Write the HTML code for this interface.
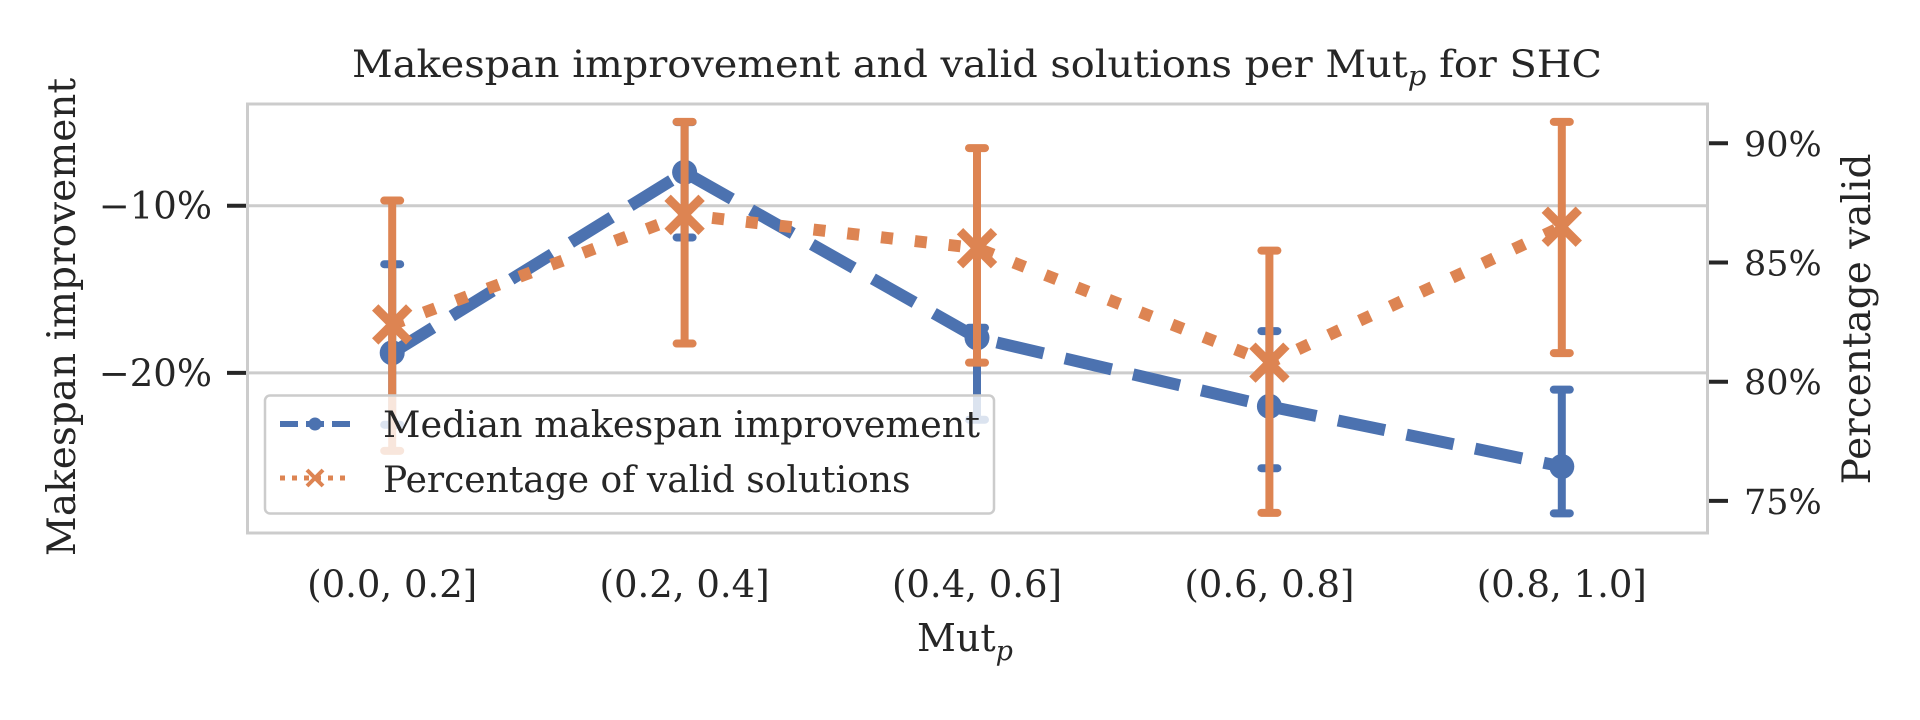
<!DOCTYPE html>
<html><head><meta charset="utf-8"><style>
html,body{margin:0;padding:0;background:#fff;}
svg{display:block;font-family:"DejaVu Serif","Liberation Serif",serif;}
</style></head><body>
<svg id="chart" width="1920" height="720" viewBox="0 0 1920 720" xmlns="http://www.w3.org/2000/svg">
<rect width="1920" height="720" fill="#fff"/>
<text x="977" y="77" font-size="37" fill="#262626" text-anchor="middle" textLength="1250" lengthAdjust="spacingAndGlyphs">Makespan improvement and valid solutions per Mut<tspan font-style="italic" font-size="27" dy="8">p</tspan><tspan dy="-8"> for SHC</tspan></text>
<g id="grid"></g>
<g id="series"></g>
<rect x="247.5" y="104" width="1460" height="429" fill="none" stroke="#cccccc" stroke-width="3"/>
<g id="axes"></g>
<text transform="translate(75,317) rotate(-90)" font-size="39" fill="#262626" text-anchor="middle">Makespan improvement</text>
<text transform="translate(1870,319) rotate(-90)" font-size="39" fill="#262626" text-anchor="middle">Percentage valid</text>
<text x="965" y="651" font-size="38" fill="#262626" text-anchor="middle">Mut<tspan font-style="italic" font-size="27" dy="9">p</tspan></text>
<g>
<rect x="265" y="395.5" width="729" height="118" rx="5" fill="#fff" fill-opacity="0.8" stroke="#cccccc" stroke-width="2.5"/>
<g>
<line x1="280" y1="424" x2="352" y2="424" stroke="#4c72b0" stroke-width="6" stroke-dasharray="18,8"/>
<circle cx="315" cy="424" r="6.5" fill="#4c72b0"/>
<text x="383" y="437" font-size="36" fill="#262626" textLength="597" lengthAdjust="spacingAndGlyphs">Median makespan improvement</text>
</g>
<g>
<line x1="280" y1="478" x2="352" y2="478" stroke="#dd8452" stroke-width="5" stroke-dasharray="5,7"/>
<path d="M307,470 L323,486 M323,470 L307,486" stroke="#dd8452" stroke-width="4"/>
<text x="383" y="492" font-size="36" fill="#262626">Percentage of valid solutions</text>
</g>
</g>
</svg>
<script>
const categories = ["(0.0, 0.2]","(0.2, 0.4]","(0.4, 0.6]","(0.6, 0.8]","(0.8, 1.0]"];
const medianValues = [-18.8, -8.0, -17.9, -22.0, -25.6];
const medianErrLow = [-23.1, -11.9, -22.8, -25.7, -28.4];
const medianErrHigh = [-13.5, -5.0, -17.3, -17.5, -21.0];
const validValues = [82.4, 87.0, 85.6, 80.8, 86.5];
const validErrLow = [77.1, 81.6, 80.8, 74.5, 81.2];
const validErrHigh = [87.6, 90.9, 89.8, 85.5, 90.9];
const leftTicks = [-10, -20];
const leftTickLabels = ["\u221210%", "\u221220%"];
const rightTicks = [90, 85, 80, 75];
const rightTickLabels = ["90%", "85%", "80%", "75%"];

const NS = "http://www.w3.org/2000/svg";
const X0 = 246, X1 = 1708, YT = 104, YB = 533;
const xScale = i => X0 + (i + 0.5) * (X1 - X0) / categories.length;
const yLeft = v => 205.7 - (v + 10) * 16.72;
const yRight = v => 143.3 + (90 - v) * 23.84;
function mk(tag, attrs, parent) {
  const e = document.createElementNS(NS, tag);
  for (const k in attrs) e.setAttribute(k, attrs[k]);
  parent.appendChild(e);
  return e;
}
const grid = document.getElementById('grid');
const axes = document.getElementById('axes');
const series = document.getElementById('series');

leftTicks.forEach((v, i) => {
  const y = yLeft(v);
  const g = mk('line', {x1: X0, x2: X1, y1: y, y2: y, stroke: '#cccccc', 'stroke-width': 3}, grid);
  
  
  const t = mk('line', {x1: 227, x2: 246, y1: y, y2: y, stroke: '#262626', 'stroke-width': 4}, axes);
  
  
  const l = mk('text', {x: 212, y: y + 13, 'font-size': 37, fill: '#262626', 'text-anchor': 'end'}, axes);
  l.textContent = leftTickLabels[i];
  
  
});
rightTicks.forEach((v, i) => {
  const y = yRight(v);
  const t = mk('line', {x1: 1709, x2: 1728, y1: y, y2: y, stroke: '#262626', 'stroke-width': 4}, axes);
  
  
  const l = mk('text', {x: 1744, y: y + 13, 'font-size': 35, fill: '#262626'}, axes);
  l.textContent = rightTickLabels[i];
  
  
});
categories.forEach((c, i) => {
  const l = mk('text', {x: xScale(i), y: 597, 'font-size': 37, fill: '#262626', 'text-anchor': 'middle'}, axes);
  l.textContent = c;
  
  
});

// median series
const bp = medianValues.map((v, i) => xScale(i) + ',' + yLeft(v)).join(' ');
const bl = mk('polyline', {points: bp, fill: 'none', stroke: '#4c72b0', 'stroke-width': 12, 'stroke-dasharray': '48,22'}, series);


medianValues.forEach((v, i) => {
  const x = xScale(i);
  const e = mk('line', {x1: x, x2: x, y1: yLeft(medianErrLow[i]), y2: yLeft(medianErrHigh[i]), stroke: '#4c72b0', 'stroke-width': 8}, series);
  
  
  [medianErrLow[i], medianErrHigh[i]].forEach(ev => {
    const cp = mk('line', {x1: x - 8, x2: x + 8, y1: yLeft(ev), y2: yLeft(ev), stroke: '#4c72b0', 'stroke-width': 8, 'stroke-linecap': 'round'}, series);
    
    
  });
  const m = mk('circle', {cx: x, cy: yLeft(v), r: 12.5, fill: '#4c72b0'}, series);
  
  
});

// valid series
const op = validValues.map((v, i) => xScale(i) + ',' + yRight(v)).join(' ');
const ol = mk('polyline', {points: op, fill: 'none', stroke: '#dd8452', 'stroke-width': 12, 'stroke-dasharray': '12,22'}, series);


validValues.forEach((v, i) => {
  const x = xScale(i);
  const e = mk('line', {x1: x, x2: x, y1: yRight(validErrLow[i]), y2: yRight(validErrHigh[i]), stroke: '#dd8452', 'stroke-width': 8}, series);
  
  
  [validErrLow[i], validErrHigh[i]].forEach(ev => {
    const cp = mk('line', {x1: x - 8, x2: x + 8, y1: yRight(ev), y2: yRight(ev), stroke: '#dd8452', 'stroke-width': 8, 'stroke-linecap': 'round'}, series);
    
    
  });
  const y = yRight(v), s = 17;
  const m = mk('path', {d: `M${x-s},${y-s} L${x+s},${y+s} M${x+s},${y-s} L${x-s},${y+s}`, stroke: '#dd8452', 'stroke-width': 9, fill: 'none'}, series);
  
  
});
</script>
</body></html>
